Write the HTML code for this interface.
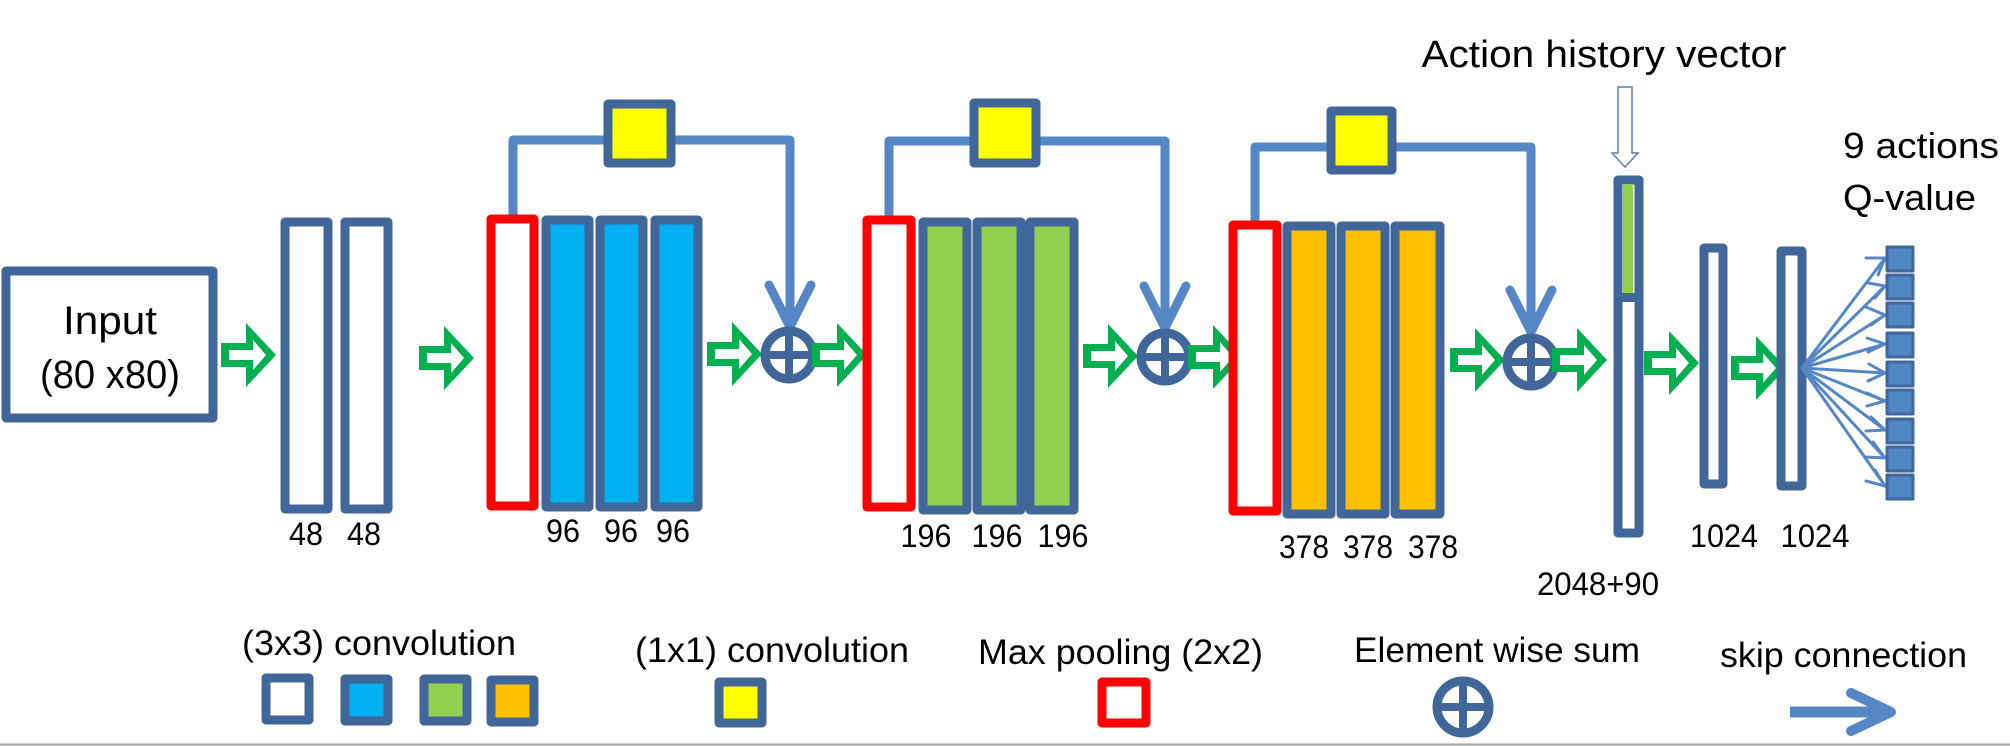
<!DOCTYPE html>
<html><head><meta charset="utf-8"><style>
html,body{margin:0;padding:0;background:#fff;}
svg{display:block;}
text{font-family:"Liberation Sans",sans-serif;fill:#000;}
</style></head><body>
<svg width="2010" height="746" viewBox="0 0 2010 746" xmlns="http://www.w3.org/2000/svg">
<defs>
<g id="ga">
<polygon points="0,-12 25,-12 25,-32 55,0 25,32 25,12 0,12" fill="#00B050"/>
<polygon points="8,-5 32,-5 32,-15 45,0 32,15 32,5 8,5" fill="#fff"/>
</g>
<g id="sum">
<circle cx="0" cy="0" r="24" fill="none" stroke="#41679A" stroke-width="9"/>
<line x1="-24" y1="0" x2="24" y2="0" stroke="#41679A" stroke-width="8"/>
<line x1="0" y1="-24" x2="0" y2="24" stroke="#41679A" stroke-width="8"/>
</g>
</defs>
<g stroke-linejoin="round">
<rect x="6" y="271" width="207" height="147" fill="#fff" stroke="#41679A" stroke-width="9"/>
<text x="110" y="334" font-size="40" text-anchor="middle" textLength="94" lengthAdjust="spacingAndGlyphs">Input</text>
<text x="110" y="388" font-size="40" text-anchor="middle" textLength="140" lengthAdjust="spacingAndGlyphs">(80 x80)</text>

<use href="#ga" x="221" y="355"/>
<use href="#ga" x="419" y="358"/>

<rect x="285" y="222" width="43" height="287" fill="#fff" stroke="#41679A" stroke-width="9"/>
<rect x="345" y="222" width="43" height="287" fill="#fff" stroke="#41679A" stroke-width="9"/>
<text x="306" y="545" font-size="32" text-anchor="middle" textLength="34" lengthAdjust="spacingAndGlyphs">48</text>
<text x="364" y="545" font-size="32" text-anchor="middle" textLength="34" lengthAdjust="spacingAndGlyphs">48</text>

<polyline points="513,219 513,140 790,140 790,320" fill="none" stroke="#5587C6" stroke-width="9"/>
<polyline points="769,285 790,327 811,285" fill="none" stroke="#5587C6" stroke-width="9" stroke-linecap="round"/>
<rect x="608" y="104" width="63" height="59" fill="#FFFF00" stroke="#41679A" stroke-width="9"/>
<rect x="491" y="219" width="43" height="287" fill="#fff" stroke="#FF0000" stroke-width="9"/>
<rect x="546" y="220" width="43" height="287" fill="#00B0F0" stroke="#41679A" stroke-width="9"/>
<rect x="600" y="220" width="43" height="287" fill="#00B0F0" stroke="#41679A" stroke-width="9"/>
<rect x="655" y="220" width="43" height="287" fill="#00B0F0" stroke="#41679A" stroke-width="9"/>
<text x="563" y="542" font-size="32" text-anchor="middle" textLength="34" lengthAdjust="spacingAndGlyphs">96</text>
<text x="621" y="542" font-size="32" text-anchor="middle" textLength="34" lengthAdjust="spacingAndGlyphs">96</text>
<text x="673" y="542" font-size="32" text-anchor="middle" textLength="34" lengthAdjust="spacingAndGlyphs">96</text>
<use href="#ga" x="707" y="354"/>
<use href="#sum" x="789" y="355"/>
<use href="#ga" x="812" y="355"/>

<polyline points="889,220 889,141 1165,141 1165,320" fill="none" stroke="#5587C6" stroke-width="9"/>
<polyline points="1144,286 1165,328 1186,286" fill="none" stroke="#5587C6" stroke-width="9" stroke-linecap="round"/>
<rect x="974" y="103" width="62" height="60" fill="#FFFF00" stroke="#41679A" stroke-width="9"/>
<rect x="867" y="220" width="44" height="287" fill="#fff" stroke="#FF0000" stroke-width="9"/>
<rect x="923" y="222" width="44" height="288" fill="#92D050" stroke="#41679A" stroke-width="9"/>
<rect x="977" y="222" width="44" height="288" fill="#92D050" stroke="#41679A" stroke-width="9"/>
<rect x="1030" y="222" width="44" height="288" fill="#92D050" stroke="#41679A" stroke-width="9"/>
<text x="926" y="547" font-size="32" text-anchor="middle" textLength="51" lengthAdjust="spacingAndGlyphs">196</text>
<text x="997" y="547" font-size="32" text-anchor="middle" textLength="51" lengthAdjust="spacingAndGlyphs">196</text>
<text x="1063" y="547" font-size="32" text-anchor="middle" textLength="51" lengthAdjust="spacingAndGlyphs">196</text>
<use href="#ga" x="1083" y="356"/>
<use href="#sum" x="1165" y="357"/>
<use href="#ga" x="1188" y="357"/>

<polyline points="1255,224 1255,147 1531,147 1531,325" fill="none" stroke="#5587C6" stroke-width="9"/>
<polyline points="1510,290 1531,332 1552,290" fill="none" stroke="#5587C6" stroke-width="9" stroke-linecap="round"/>
<rect x="1331" y="111" width="61" height="59" fill="#FFFF00" stroke="#41679A" stroke-width="9"/>
<rect x="1233" y="225" width="44" height="286" fill="#fff" stroke="#FF0000" stroke-width="9"/>
<rect x="1287" y="226" width="44" height="288" fill="#FFC000" stroke="#41679A" stroke-width="9"/>
<rect x="1341" y="226" width="44" height="288" fill="#FFC000" stroke="#41679A" stroke-width="9"/>
<rect x="1395" y="226" width="45" height="288" fill="#FFC000" stroke="#41679A" stroke-width="9"/>
<text x="1304" y="558" font-size="32" text-anchor="middle" textLength="50" lengthAdjust="spacingAndGlyphs">378</text>
<text x="1368" y="558" font-size="32" text-anchor="middle" textLength="50" lengthAdjust="spacingAndGlyphs">378</text>
<text x="1433" y="558" font-size="32" text-anchor="middle" textLength="50" lengthAdjust="spacingAndGlyphs">378</text>
<use href="#ga" x="1450" y="360"/>
<use href="#sum" x="1531" y="362"/>
<use href="#ga" x="1552" y="360"/>

<text x="1604" y="67" font-size="38" text-anchor="middle" textLength="365" lengthAdjust="spacingAndGlyphs">Action history vector</text>
<polygon points="1618,87 1632,87 1632,153 1638,153 1625,167 1612,153 1618,153" fill="#fff" stroke="#5E7FA8" stroke-width="1.5" stroke-linejoin="miter"/>
<rect x="1618" y="180" width="21" height="353" fill="#fff" stroke="#41679A" stroke-width="9"/>
<rect x="1623" y="184" width="10" height="109" fill="#92D050"/>
<rect x="1618" y="293" width="21" height="9" fill="#41679A"/>
<text x="1598" y="595" font-size="32" text-anchor="middle" textLength="122" lengthAdjust="spacingAndGlyphs">2048+90</text>

<use href="#ga" x="1644" y="363"/>
<rect x="1704" y="248" width="19" height="236" fill="#fff" stroke="#41679A" stroke-width="9"/>
<use href="#ga" x="1731" y="368"/>
<rect x="1781" y="251" width="21" height="235" fill="#fff" stroke="#41679A" stroke-width="9"/>
<text x="1724" y="547" font-size="32" text-anchor="middle" textLength="68" lengthAdjust="spacingAndGlyphs">1024</text>
<text x="1815" y="547" font-size="32" text-anchor="middle" textLength="69" lengthAdjust="spacingAndGlyphs">1024</text>

<g stroke="#5587C6" stroke-width="3" fill="none" stroke-linecap="round">
<line x1="1802" y1="368" x2="1885" y2="258"/><line x1="1802" y1="368" x2="1885" y2="286"/>
<line x1="1802" y1="368" x2="1885" y2="315"/><line x1="1802" y1="368" x2="1885" y2="344"/>
<line x1="1802" y1="368" x2="1885" y2="373"/><line x1="1802" y1="368" x2="1885" y2="401"/>
<line x1="1802" y1="368" x2="1885" y2="430"/><line x1="1802" y1="368" x2="1885" y2="458"/>
<line x1="1802" y1="368" x2="1885" y2="486"/>
<polyline points="1866,258 1885,258 1878,275"/><polyline points="1868,283 1885,286 1875,298"/>
<polyline points="1866,307 1885,315 1871,325"/><polyline points="1867,338 1885,344 1868,352"/>
<polyline points="1869,364 1885,373 1868,381"/><polyline points="1867,393 1885,401 1867,406"/>
<polyline points="1871,417 1885,430 1866,431"/><polyline points="1873,442 1885,458 1866,457"/>
<polyline points="1875,470 1885,486 1866,481"/>
</g>
<g fill="#4F87C5" stroke="#41679A" stroke-width="3">
<rect x="1887" y="247" width="26" height="24"/><rect x="1887" y="275" width="26" height="24"/>
<rect x="1887" y="303" width="26" height="24"/><rect x="1887" y="333" width="26" height="24"/>
<rect x="1887" y="362" width="26" height="24"/><rect x="1887" y="390" width="26" height="24"/>
<rect x="1887" y="419" width="26" height="24"/><rect x="1887" y="447" width="26" height="24"/>
<rect x="1887" y="475" width="26" height="24"/>
</g>
<text x="1843" y="158" font-size="36" textLength="156" lengthAdjust="spacingAndGlyphs">9 actions</text>
<text x="1843" y="210" font-size="36" textLength="133" lengthAdjust="spacingAndGlyphs">Q-value</text>

<text x="242" y="655" font-size="35" textLength="274" lengthAdjust="spacingAndGlyphs">(3x3) convolution</text>
<rect x="266" y="678" width="43" height="42" fill="#fff" stroke="#41679A" stroke-width="9"/>
<rect x="345" y="679" width="43" height="42" fill="#00B0F0" stroke="#41679A" stroke-width="9"/>
<rect x="424" y="679" width="43" height="42" fill="#92D050" stroke="#41679A" stroke-width="9"/>
<rect x="491" y="680" width="43" height="42" fill="#FFC000" stroke="#41679A" stroke-width="9"/>
<text x="635" y="662" font-size="35" textLength="274" lengthAdjust="spacingAndGlyphs">(1x1) convolution</text>
<rect x="719" y="682" width="43" height="41" fill="#FFFF00" stroke="#41679A" stroke-width="9"/>
<text x="978" y="664" font-size="35" textLength="285" lengthAdjust="spacingAndGlyphs">Max pooling (2x2)</text>
<rect x="1102" y="682" width="44" height="41" fill="#fff" stroke="#FF0000" stroke-width="9"/>
<text x="1354" y="662" font-size="35" textLength="286" lengthAdjust="spacingAndGlyphs">Element wise sum</text>
<g transform="translate(1463,707)">
<circle r="26" fill="none" stroke="#41679A" stroke-width="9"/>
<line x1="-26" y1="0" x2="26" y2="0" stroke="#41679A" stroke-width="8"/>
<line x1="0" y1="-26" x2="0" y2="26" stroke="#41679A" stroke-width="8"/>
</g>
<text x="1720" y="667" font-size="35" textLength="247" lengthAdjust="spacingAndGlyphs">skip connection</text>
<line x1="1790" y1="712" x2="1888" y2="712" stroke="#5587C6" stroke-width="11"/>
<polyline points="1851,693 1891,712 1851,731" fill="none" stroke="#5587C6" stroke-width="10" stroke-linecap="round"/>
</g>
<line x1="0" y1="744.5" x2="2010" y2="744.5" stroke="#A0A0A0" stroke-width="2"/>
</svg>
</body></html>
